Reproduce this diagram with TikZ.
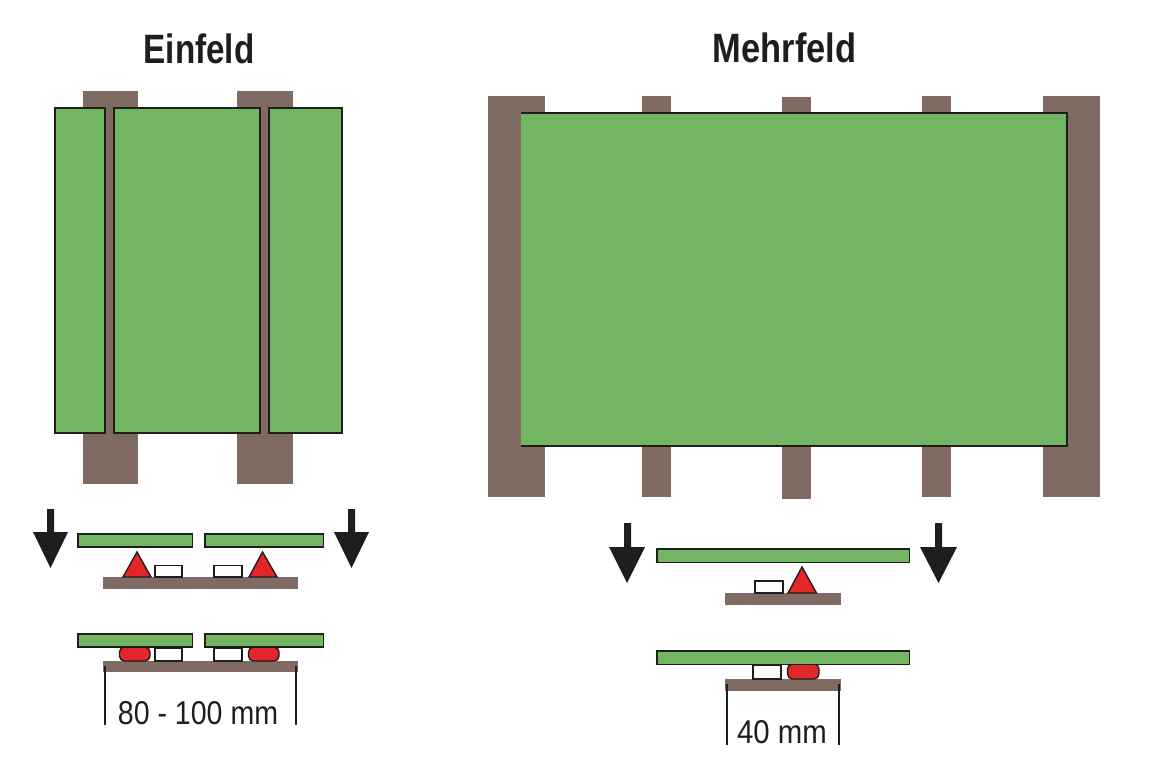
\documentclass[tikz,border=0pt]{standalone}
\usepackage{fontspec}
\setmainfont{Liberation Sans}
\definecolor{pier}{HTML}{806B63}
\definecolor{panel}{HTML}{72B562}
\definecolor{glue}{HTML}{E3262A}
\definecolor{ink}{HTML}{1F1E1C}
\tikzset{
  pierbox/.style={fill=pier,draw=none},
  panelbox/.style={fill=panel,draw=ink,line width=1.9pt,line join=miter},
  panelfill/.style={fill=panel,draw=none},
  paneledge/.style={draw=ink,line width=1.9pt,line join=miter},
  padbox/.style={fill=white,draw=ink,line width=1.6pt},
  gluetri/.style={fill=glue,draw=ink,line width=1.4pt,line join=miter},
  gluepill/.style={fill=glue,draw=ink,line width=1.4pt,rounded corners=5pt},
  loadarrow/.style={fill=ink,draw=none},
  dimline/.style={draw=ink,line width=1.4pt},
  titlelabel/.style={text=ink,inner sep=0pt,anchor=base,font=\bfseries\fontsize{41}{41}\selectfont},
  dimlabel/.style={text=ink,inner sep=0pt,anchor=base,font=\fontsize{33}{33}\selectfont}
}
\begin{document}
\begin{tikzpicture}[x=1pt,y=-1pt]
\useasboundingbox (0,0) rectangle (1161,775);
\fill[white] (0,0) rectangle (1161,775);
% titles
\node[titlelabel] (t1) at (199,64) {\scalebox{0.81}[1]{Einfeld}};
\node[titlelabel] (t2) at (784.5,63) {\scalebox{0.84}[1]{Mehrfeld}};
% Einfeld plan
\fill[pierbox] (83,91) rectangle (138,484);
\fill[pierbox] (237,91) rectangle (293,484);
\draw[panelbox] (55,108) rectangle (105,433);
\draw[panelbox] (114,108) rectangle (260,433);
\draw[panelbox] (269,108) rectangle (342,433);
% Mehrfeld plan
\fill[pierbox] (488,96) rectangle (545,497);
\fill[pierbox] (642,96) rectangle (671,497);
\fill[pierbox] (782,97) rectangle (811,499);
\fill[pierbox] (922,96) rectangle (951,497);
\fill[pierbox] (1043,96) rectangle (1100,497);
\fill[panelfill] (521,113) rectangle (1067,446);
\draw[paneledge] (521,113) -- (1067,113) -- (1067,446) -- (521,446);
% Einfeld detail, upper
\fill[loadarrow] (47,509) -- (54,509) -- (54,532) -- (68,532) -- (50.5,568) -- (33,532) -- (47,532) -- cycle;
\fill[loadarrow] (348,509) -- (355,509) -- (355,532) -- (369,532) -- (351.5,568) -- (334,532) -- (348,532) -- cycle;
\fill[pierbox] (103,577) rectangle (298,589);
\draw[panelbox] (78,534) rectangle (192.5,547);
\draw[panelbox] (205,534) rectangle (323.5,547);
\draw[gluetri] (137,552) -- (151,577) -- (123,577) -- cycle;
\draw[gluetri] (262.5,552) -- (277,577) -- (249,577) -- cycle;
\draw[padbox] (155,565.5) rectangle (182,577);
\draw[padbox] (214,565.5) rectangle (242,577);
% Einfeld detail, lower
\fill[pierbox] (103,661) rectangle (298,672);
\draw[gluepill] (119.5,647) rectangle (150,661);
\draw[gluepill] (248.5,647) rectangle (279,661);
\draw[padbox] (155,648) rectangle (182,661);
\draw[padbox] (214,648) rectangle (242,661);
\draw[panelbox] (78,634) rectangle (192.5,647);
\draw[panelbox] (205,634) rectangle (323.5,647);
\draw[dimline] (105,666) -- (105,725);
\draw[dimline] (296,666) -- (296,725);
\node[dimlabel] (d1) at (198,724) {\scalebox{0.865}[1]{80 - 100 mm}};
% Mehrfeld detail, upper
\fill[loadarrow] (624,523) -- (631,523) -- (631,547) -- (645,547) -- (627,583) -- (609,547) -- (624,547) -- cycle;
\fill[loadarrow] (935,523) -- (942,523) -- (942,547) -- (957,547) -- (938.5,583) -- (920,547) -- (935,547) -- cycle;
\fill[pierbox] (725,593) rectangle (841,605);
\draw[panelbox] (657,549) rectangle (909.5,562.5);
\draw[gluetri] (802,567) -- (816.5,593) -- (788,593) -- cycle;
\draw[padbox] (755,581) rectangle (783,593);
% Mehrfeld detail, lower
\fill[pierbox] (725,679) rectangle (841,691);
\draw[gluepill] (787.5,664) rectangle (819,679);
\draw[padbox] (753,665) rectangle (781,679);
\draw[panelbox] (657,651) rectangle (909.5,664.5);
\draw[dimline] (727,684) -- (727,745);
\draw[dimline] (839,684) -- (839,745);
\node[dimlabel] (d2) at (782,743) {\scalebox{0.89}[1]{40 mm}};
\end{tikzpicture}
\end{document}
